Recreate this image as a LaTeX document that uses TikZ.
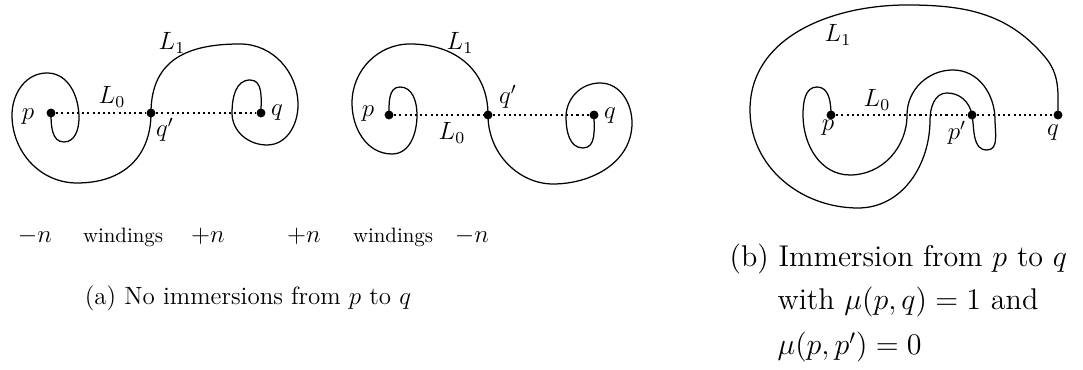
\documentclass[tikz,border=0pt]{standalone}
\usepackage{amsmath}

\begin{document}
\begin{tikzpicture}[x=0.48pt, y=0.48pt, line width=0.6pt,
    vtx/.style={circle, fill, inner sep=0pt, minimum size=4.3pt},
    axis/.style={dash pattern=on 1pt off 1.5pt, line width=0.55pt},
    lbl/.style={font=\large}]
    \useasboundingbox (0,0) rectangle (1083,370);

    % (a) left
    \node[vtx] (p1) at (51,257) {};
    \node[vtx] (qq1) at (151,257) {};
    \node[vtx] (q1) at (261,257) {};
    \draw[axis] (p1) -- (qq1) -- (q1);
    \draw (p1.center) to[out=-90,in=180] (64,228) to[out=0,in=-90] (79,252)
        to[out=90,in=0] (47,297) to[out=180,in=90] (12,255)
        to[out=-90,in=180] (77,187) .. controls (125,187) and (151,215) .. (qq1.center)
        .. controls (151,312) and (190,326) .. (240,326) to[out=0,in=90] (298,265)
        to[out=-90,in=0] (267,225) to[out=180,in=-90] (232,257)
        to[out=90,in=180] (250,290) to[out=0,in=90] (q1.center);
    \node[lbl] at (28,253) {$p$};
    \node[lbl] at (112,273) {$L_0$};
    \node[lbl] at (165,240) {$q'$};
    \node[lbl] at (277,257) {$q$};
    \node[lbl] at (172,327) {$L_1$};

    % (a) right
    \node[vtx] (p2) at (389,255) {};
    \node[vtx] (qq2) at (488,255) {};
    \node[vtx] (q2) at (594,255) {};
    \draw[axis] (p2) -- (qq2) -- (q2);
    \draw (p2.center) to[out=90,in=180] (400,283) to[out=0,in=90] (417,255)
        to[out=-90,in=0] (392,216) to[out=180,in=-90] (352,267)
        to[out=90,in=180] (410,326) .. controls (455,326) and (488,300) .. (qq2.center)
        .. controls (488,215) and (520,186) .. (553,186) to[out=0,in=-90] (632,247)
        to[out=90,in=0] (600,287) to[out=180,in=90] (566,253)
        to[out=-90,in=180] (583,222) to[out=0,in=-90] (q2.center);
    \node[lbl] at (368,256) {$p$};
    \node[lbl] at (452,237) {$L_0$};
    \node[lbl] at (508,273) {$q'$};
    \node[lbl] at (610,254) {$q$};
    \node[lbl] at (460,327) {$L_1$};

    % windings
    \node[lbl, anchor=base] at (35,127) {$-n$};
    \node[anchor=base] at (123,127) {windings};
    \node[lbl, anchor=base] at (208,127) {$+n$};
    \node[lbl, anchor=base] at (304,127) {$+n$};
    \node[anchor=base] at (393,127) {windings};
    \node[lbl, anchor=base] at (472,127) {$-n$};
    \node[anchor=base, font=\large] at (248,65) {(a) No immersions from $p$ to $q$};

    % (b)
    \node[vtx] (p3) at (831,255) {};
    \node[vtx] (pp3) at (972,255) {};
    \node[vtx] (q3) at (1058,255) {};
    \draw[axis] (p3) -- (pp3) -- (q3);
    \draw (p3.center) to[out=90,in=0] (817,283) to[out=180,in=90] (803,255)
        to[out=-90,in=180] (850,195) to[out=0,in=-90] (907,255)
        to[out=90,in=180] (953,300) to[out=0,in=90] (995,250)
        to[out=-90,in=0] (987,220) to[out=180,in=-80] (pp3.center)
        to[out=100,in=0] (947,277) to[out=180,in=90] (930,250)
        to[out=-90,in=0] (858,162) to[out=180,in=-90] (750,260)
        to[out=90,in=180] (907,365) to[out=0,in=130] (1045,313)
        to[out=-50,in=90] (q3.center);
    \node[lbl] at (828,242) {$p$};
    \node[lbl] at (957,237) {$p'$};
    \node[lbl] at (1053,237) {$q$};
    \node[lbl] at (877,270) {$L_0$};
    \node[lbl] at (838,335) {$L_1$};
    \node[anchor=base west, font=\Large] at (722,103) {(b) Immersion from $p$ to $q$};
    \node[anchor=base west, font=\Large] at (770,60) {with $\mu(p,q)=1$ and};
    \node[anchor=base west, font=\Large] at (770,15) {$\mu(p,p')=0$};
\end{tikzpicture}
\end{document}
